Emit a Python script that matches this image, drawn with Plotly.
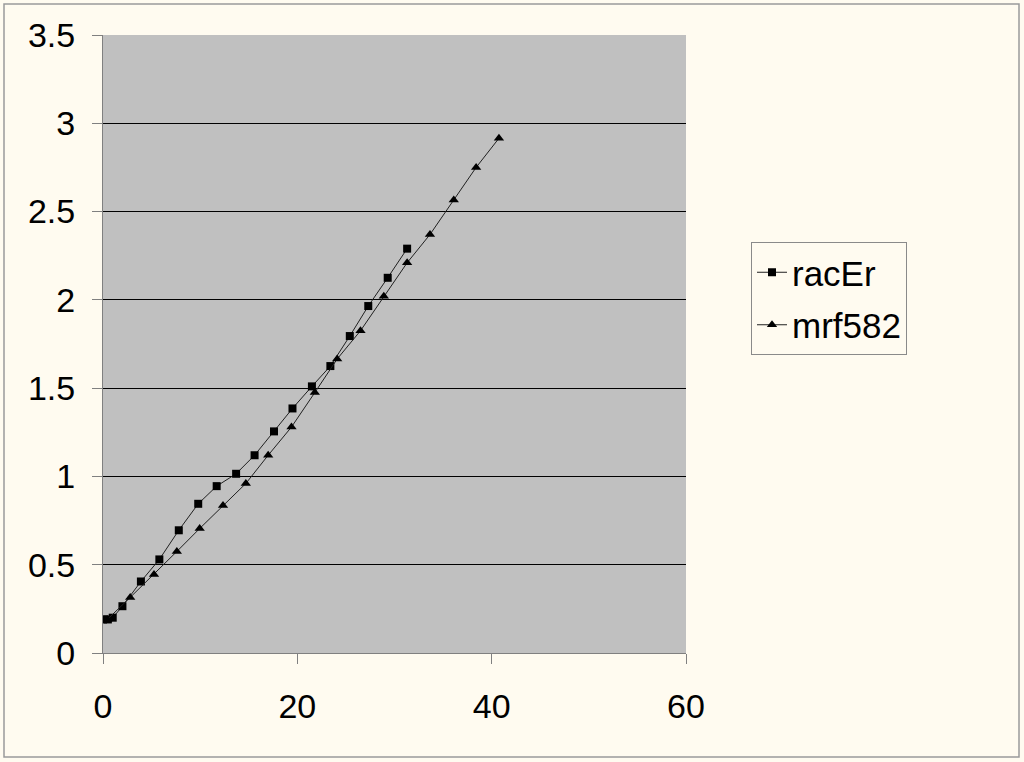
import plotly.graph_objects as go

# racEr series (squares)
racer_x = [0, 0.5, 1.0, 2.0, 3.9, 5.8, 7.8, 9.8, 11.7, 13.7, 15.6, 17.6,
           19.5, 21.5, 23.4, 25.4, 27.3, 29.3, 31.3]
racer_y = [0.19, 0.19, 0.20, 0.265, 0.405, 0.53, 0.695, 0.845, 0.945, 1.015,
           1.12, 1.255, 1.385, 1.51, 1.625, 1.795, 1.965, 2.125, 2.29]

# mrf582 series (triangles)
mrf_x = [0, 0.45, 2.8, 5.25, 7.6, 9.95, 12.35, 14.7, 17.0, 19.4, 21.8, 24.1,
         26.5, 28.9, 31.3, 33.65, 36.1, 38.4, 40.75]
mrf_y = [0.19, 0.19, 0.315, 0.445, 0.575, 0.705, 0.835, 0.96, 1.12, 1.28,
         1.475, 1.665, 1.825, 2.02, 2.21, 2.37, 2.565, 2.75, 2.915]

x_ticks = [0, 20, 40, 60]
y_ticks = [0, 0.5, 1, 1.5, 2, 2.5, 3, 3.5]
y_labels = ["0", "0.5", "1", "1.5", "2", "2.5", "3", "3.5"]

CREAM = "#FFFBF0"
FONT = "Liberation Sans, Arial, sans-serif"

fig = go.Figure()

fig.add_trace(go.Scatter(
    x=racer_x, y=racer_y, name="racEr", mode="lines+markers",
    legendgroup="a",
    line=dict(color="#202020", width=1),
    marker=dict(symbol="square", size=8, color="black"),
))
fig.add_trace(go.Scatter(
    x=mrf_x, y=mrf_y, name="mrf582", mode="lines+markers",
    legendgroup="b",
    line=dict(color="#202020", width=1),
    marker=dict(symbol="triangle-up", size=9, color="black"),
))

# outer border of the chart area (pixel positions converted to paper coords)
L, R, T, B = 103, 338, 35, 109
pw, ph = 1024 - L - R, 762 - T - B
def px_x(p):
    return (p - L) / pw
def px_y(p):
    return (762 - B - p) / ph

fig.add_shape(type="rect", xref="paper", yref="paper",
              x0=px_x(4), x1=px_x(1019), y0=px_y(757), y1=px_y(4),
              line=dict(color="#9a9a9a", width=1.5), layer="below")

fig.update_layout(
    width=1024, height=762,
    paper_bgcolor=CREAM,
    plot_bgcolor="#C0C0C0",
    margin=dict(l=L, r=R, t=T, b=B, autoexpand=False),
    font=dict(family=FONT, size=34, color="black"),
    showlegend=True,
    legend=dict(
        x=px_x(751), y=px_y(242), xanchor="left", yanchor="top",
        bgcolor=CREAM, bordercolor="#8a8a8a", borderwidth=1,
        font=dict(family=FONT, size=35, color="black"),
        itemwidth=30, traceorder="grouped", tracegroupgap=4,
    ),
    xaxis=dict(
        range=[0, 60], tickvals=x_ticks, showgrid=False, zeroline=False,
        showline=True, linecolor="#808080", linewidth=1,
        ticks="outside", ticklen=10, tickcolor="#808080",
        ticklabelstandoff=13, automargin=False,
        tickfont=dict(size=34), fixedrange=True,
    ),
    yaxis=dict(
        range=[0, 3.5], tickvals=y_ticks, ticktext=y_labels,
        showgrid=True, gridcolor="#000000", gridwidth=1, zeroline=False,
        showline=True, linecolor="#808080", linewidth=1,
        ticks="outside", ticklen=10, tickcolor="#808080",
        ticklabelstandoff=10, automargin=False,
        tickfont=dict(size=34), fixedrange=True,
    ),
)

fig.write_html("out.html", config={"displayModeBar": False},
               post_script="document.body.style.margin='0';")
